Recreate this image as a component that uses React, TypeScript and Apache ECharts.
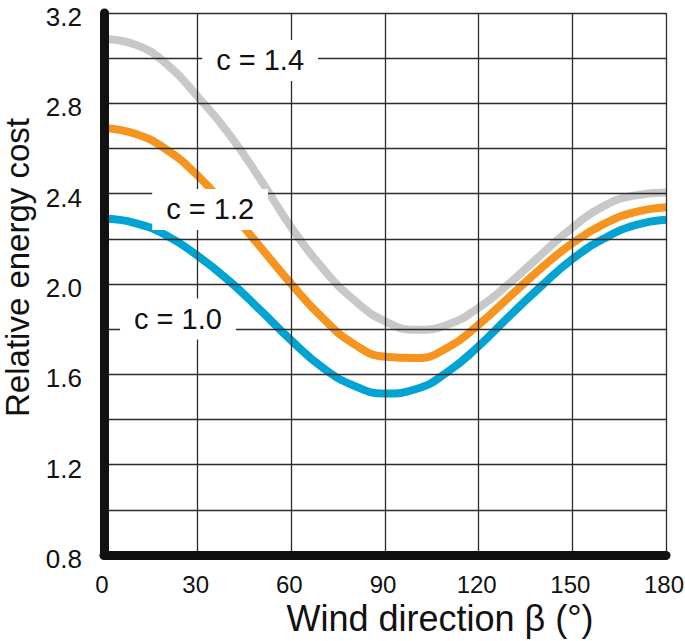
import React, { useEffect, useRef } from "react";
import * as echarts from "echarts";

const angles = [0, 10, 20, 30, 40, 50, 60, 70, 80, 90, 100, 110, 120, 130, 140, 150, 160, 170, 180];
const c10 = [2.29, 2.27, 2.215, 2.125, 2.015, 1.885, 1.75, 1.63, 1.55, 1.515, 1.535, 1.61, 1.725, 1.86, 1.99, 2.11, 2.2, 2.26, 2.285];
const c12 = [2.69, 2.665, 2.595, 2.48, 2.33, 2.165, 2.0, 1.85, 1.735, 1.678, 1.672, 1.718, 1.82, 1.945, 2.07, 2.18, 2.265, 2.318, 2.34];
const c14 = [3.085, 3.06, 2.975, 2.83, 2.665, 2.465, 2.25, 2.07, 1.93, 1.835, 1.797, 1.82, 1.895, 2.005, 2.13, 2.25, 2.345, 2.392, 2.405];

const seriesNames = ["c = 1.0", "c = 1.2", "c = 1.4"];
const seriesColors = ["#00a3d2", "#f5951f", "#c7c8c7"];
const labelCoords = [
  [23.7, 1.845],
  [34, 2.33],
  [50, 2.99],
];

const xTicks = { min: 0, max: 180, interval: 30 };
const yTicks = { min: 0.8, max: 3.2, interval: 0.4 };

const FONT = "'Liberation Sans', Arial, Helvetica, sans-serif";

export default function App() {
  const ref = useRef<HTMLDivElement>(null);
  useEffect(() => {
    document.body.style.margin = "0";
    if (!ref.current) return;
    const chart = echarts.init(ref.current, undefined, { renderer: "svg" });
    const seriesData = [c10, c12, c14];
    const gridLine = { show: true, lineStyle: { color: "#2b2b2b", width: 1.3 } };
    chart.setOption({
      animation: false,
      backgroundColor: "#fff",
      grid: {
        left: 104,
        right: 19,
        top: 13,
        bottom: 86,
        containLabel: false,
        outerBoundsMode: "none",
      },
      xAxis: {
        type: "value",
        min: xTicks.min,
        max: xTicks.max,
        interval: xTicks.interval,
        name: "Wind direction β (°)",
        nameLocation: "middle",
        nameGap: 40,
        nameTextStyle: { fontSize: 36, color: "#111", fontFamily: FONT, padding: [0, 0, 0, 110] },
        axisLine: { show: true, lineStyle: { color: "#111", width: 9 } },
        axisTick: { show: false },
        axisLabel: { fontSize: 24, color: "#111", fontFamily: FONT, margin: 17, padding: [0, 4, 0, 0] },
        splitLine: gridLine,
        z: 3,
      },
      yAxis: {
        type: "value",
        min: yTicks.min,
        max: yTicks.max,
        interval: yTicks.interval,
        name: "Relative energy cost",
        nameLocation: "middle",
        nameGap: 68,
        nameTextStyle: {
          fontSize: 33,
          lineHeight: 34,
          color: "#111",
          fontFamily: FONT,
          padding: [0, 0, 0, 33],
        },
        axisLine: { show: true, onZero: false, lineStyle: { color: "#111", width: 9 } },
        axisTick: { show: false },
        minorTick: { show: false, splitNumber: 2 },
        minorSplitLine: gridLine,
        axisLabel: {
          fontSize: 26,
          lineHeight: 8,
          verticalAlign: "top",
          color: "#111",
          fontFamily: FONT,
          margin: 22,
          formatter: (v: number) => v.toFixed(1),
        },
        splitLine: gridLine,
        z: 3,
      },
      series: seriesData.map((d, i) => ({
        type: "line",
        name: seriesNames[i],
        data: angles.map((a, j) => [a, d[j]]),
        smooth: 0.5,
        symbol: "none",
        lineStyle: { color: seriesColors[i], width: 8 },
        z: 2 + i * 0.1,
        markPoint: {
          symbol: "rect",
          symbolSize: 1,
          itemStyle: { color: "rgba(0,0,0,0)" },
          z: 10,
          label: {
            show: true,
            position: "inside",
            formatter: seriesNames[i],
            fontSize: 29,
            color: "#111",
            fontFamily: FONT,
            backgroundColor: "#fff",
            padding: [7, 14, 5, 14],
          },
          data: [{ coord: labelCoords[i] }],
        },
      })),
    });
    return () => chart.dispose();
  }, []);
  return <div ref={ref} style={{ width: 685, height: 641 }} />;
}
